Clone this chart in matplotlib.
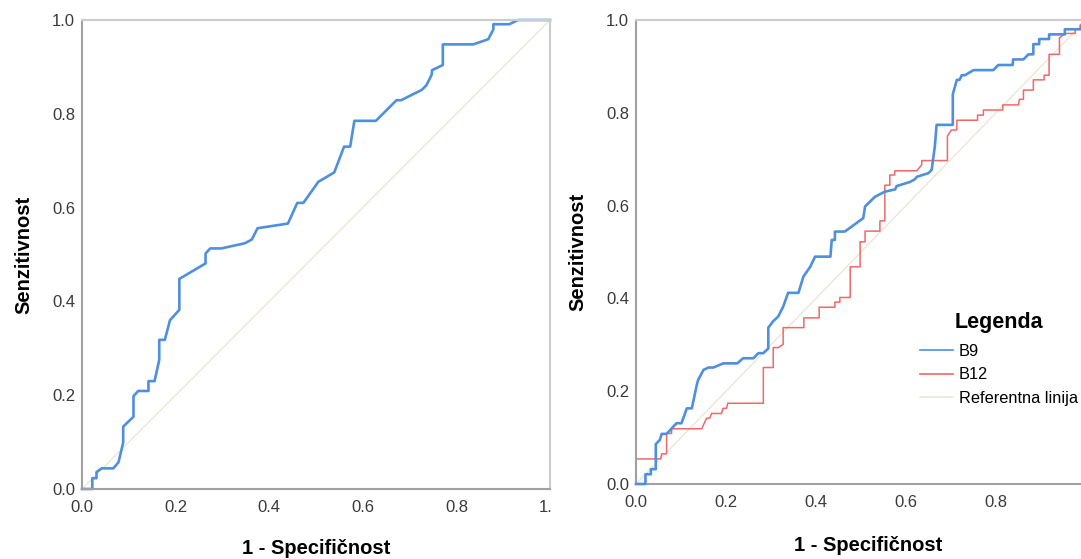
import matplotlib
matplotlib.use("Agg")
import matplotlib.pyplot as plt
from matplotlib.transforms import Bbox

plt.rcParams["font.family"] = ["Liberation Sans", "DejaVu Sans"]

# ROC curve for the single predictor (left panel)
roc_fpr = [0, 0.022, 0.022, 0.031, 0.031, 0.042, 0.067, 0.078, 0.088, 0.088,
           0.110, 0.110, 0.120, 0.142, 0.142, 0.155, 0.165, 0.165, 0.177, 0.188,
           0.208, 0.208, 0.264, 0.264, 0.274, 0.298, 0.348, 0.363, 0.375, 0.440,
           0.460, 0.473, 0.505, 0.539, 0.560, 0.573, 0.582, 0.628, 0.672, 0.682,
           0.726, 0.736, 0.747, 0.748, 0.771, 0.771, 0.836, 0.868, 0.879, 0.879,
           0.913, 0.932, 1.0]
roc_tpr = [0, 0, 0.023, 0.023, 0.036, 0.044, 0.044, 0.057, 0.099, 0.133,
           0.154, 0.198, 0.209, 0.209, 0.230, 0.230, 0.275, 0.318, 0.318, 0.360,
           0.382, 0.448, 0.481, 0.502, 0.513, 0.513, 0.524, 0.532, 0.556, 0.566,
           0.610, 0.610, 0.655, 0.675, 0.730, 0.730, 0.785, 0.785, 0.829, 0.829,
           0.851, 0.861, 0.883, 0.893, 0.904, 0.948, 0.948, 0.959, 0.980, 0.991,
           0.991, 1.0, 1.0]

# B9 and B12 curves (right panel)
b9_fpr = [0, 0.021, 0.021, 0.033, 0.033, 0.044, 0.044, 0.053, 0.057, 0.068,
          0.090, 0.101, 0.113, 0.124, 0.135, 0.138, 0.150, 0.161, 0.172, 0.194,
          0.225, 0.238, 0.261, 0.272, 0.283, 0.294, 0.294, 0.305, 0.316, 0.327,
          0.338, 0.361, 0.372, 0.387, 0.398, 0.432, 0.435, 0.442, 0.442, 0.464,
          0.505, 0.509, 0.531, 0.553, 0.576, 0.579, 0.609, 0.620, 0.624, 0.650,
          0.657, 0.664, 0.668, 0.704, 0.704, 0.713, 0.719, 0.724, 0.731, 0.750,
          0.794, 0.805, 0.837, 0.838, 0.861, 0.872, 0.883, 0.883, 0.896, 0.896,
          0.918, 0.918, 0.953, 0.953, 0.987, 1.0]
b9_tpr = [0, 0, 0.021, 0.021, 0.032, 0.032, 0.086, 0.095, 0.108, 0.108,
          0.131, 0.131, 0.163, 0.163, 0.213, 0.224, 0.246, 0.251, 0.251, 0.260,
          0.260, 0.271, 0.271, 0.282, 0.282, 0.292, 0.337, 0.351, 0.361, 0.382,
          0.412, 0.412, 0.447, 0.468, 0.490, 0.490, 0.526, 0.526, 0.544, 0.544,
          0.573, 0.598, 0.619, 0.630, 0.635, 0.642, 0.651, 0.657, 0.662, 0.670,
          0.677, 0.727, 0.774, 0.774, 0.840, 0.871, 0.871, 0.881, 0.881, 0.892,
          0.892, 0.903, 0.903, 0.915, 0.915, 0.926, 0.926, 0.948, 0.948, 0.959,
          0.959, 0.969, 0.969, 0.980, 0.980, 1.0]

b12_fpr = [0, 0, 0.055, 0.057, 0.068, 0.068, 0.079, 0.079, 0.146, 0.157,
           0.164, 0.168, 0.190, 0.193, 0.201, 0.204, 0.283, 0.283, 0.305, 0.305,
           0.316, 0.327, 0.327, 0.373, 0.373, 0.407, 0.407, 0.442, 0.442, 0.453,
           0.453, 0.476, 0.476, 0.498, 0.498, 0.509, 0.509, 0.542, 0.542, 0.553,
           0.553, 0.564, 0.564, 0.575, 0.575, 0.624, 0.635, 0.635, 0.692, 0.692,
           0.701, 0.713, 0.713, 0.759, 0.759, 0.772, 0.772, 0.815, 0.815, 0.850,
           0.852, 0.861, 0.861, 0.883, 0.883, 0.907, 0.907, 0.918, 0.918, 0.941,
           0.941, 0.953, 0.976, 0.976, 0.987, 0.987, 1.0]
b12_tpr = [0, 0.054, 0.054, 0.065, 0.065, 0.109, 0.109, 0.119, 0.119, 0.142,
           0.142, 0.152, 0.152, 0.163, 0.163, 0.174, 0.174, 0.251, 0.251, 0.294,
           0.294, 0.301, 0.337, 0.337, 0.358, 0.358, 0.381, 0.381, 0.392, 0.392,
           0.402, 0.402, 0.468, 0.468, 0.522, 0.522, 0.545, 0.545, 0.567, 0.567,
           0.644, 0.644, 0.666, 0.666, 0.675, 0.675, 0.688, 0.697, 0.697, 0.750,
           0.763, 0.763, 0.784, 0.784, 0.795, 0.795, 0.806, 0.806, 0.817, 0.817,
           0.829, 0.829, 0.849, 0.849, 0.871, 0.871, 0.881, 0.881, 0.926, 0.926,
           0.961, 0.971, 0.971, 0.980, 0.980, 0.989, 1.0]

ticks = [0.0, 0.2, 0.4, 0.6, 0.8, 1.0]
tick_labels = ["0.0", "0.2", "0.4", "0.6", "0.8", "1.0"]

BLUE = "#4f8fe0"
RED = "#f06868"
REF = "#ebe7d6"

fig = plt.figure(figsize=(10.81, 5.59), dpi=100)
ax1 = fig.add_axes([82 / 1081, 1 - 489 / 559, 468 / 1081, 469 / 559])
ax2 = fig.add_axes([636 / 1081, 1 - 484 / 559, 450 / 1081, 464 / 559])


def style(ax, xticks):
    ax.set_xlim(0, 1)
    ax.set_ylim(0, 1)
    ax.set_xticks(ticks[:xticks])
    ax.set_xticklabels(tick_labels[:xticks])
    ax.set_yticks(ticks)
    ax.set_yticklabels(tick_labels)
    ax.tick_params(axis="both", length=0, labelsize=12, colors="#3a3a3a")
    ax.tick_params(axis="x", pad=8)
    ax.tick_params(axis="y", pad=5)
    for side in ("left", "bottom"):
        ax.spines[side].set_color("#a0a0a0")
        ax.spines[side].set_linewidth(1.5)
    for side in ("top", "right"):
        ax.spines[side].set_color("#cccccc")
        ax.spines[side].set_linewidth(1.5)
    ax.set_xlabel("1 - Specifičnost", fontsize=14.5, fontweight="bold", labelpad=17.5)
    ax.set_ylabel("Senzitivnost", fontsize=14.5, fontweight="bold", labelpad=13)


ax1.plot([0, 1], [0, 1], color=REF, linewidth=1.0, zorder=1)
ax1.plot(roc_fpr, roc_tpr, color=BLUE, linewidth=1.9, zorder=2, clip_on=False)
style(ax1, 6)

ax2.plot(b9_fpr, b9_tpr, color=BLUE, linewidth=1.9, zorder=3, label="B9", clip_on=False)
ax2.plot(b12_fpr, b12_tpr, color=RED, linewidth=1.1, zorder=2, label="B12", clip_on=False)
ax2.plot([0, 1], [0, 1], color=REF, linewidth=1.0, zorder=1, label="Referentna linija")
style(ax2, 5)
ax2.xaxis.set_label_coords(0.516, -0.113)

leg = ax2.legend(loc="upper left", bbox_to_anchor=(920 / 1081, 1 - 312 / 559),
                 bbox_transform=fig.transFigure, frameon=False, title="Legenda",
                 fontsize=11.8, handlelength=2.0, handletextpad=0.35,
                 labelspacing=0.5, borderaxespad=0, borderpad=0)
leg.get_title().set_fontweight("bold")
leg.get_title().set_fontsize(15.5)
leg._legend_box.sep = 8
for handle in leg.legend_handles:
    handle.set_linewidth(1.2)

# the left panel's last x label is cut at the panel edge
fig.canvas.draw()
cut = Bbox.from_extents(0, 0, 551, 559)
for lbl in ax1.get_xticklabels():
    lbl.set_clip_on(True)
    lbl.set_clip_box(cut)

fig.savefig("out.png", dpi=100)
